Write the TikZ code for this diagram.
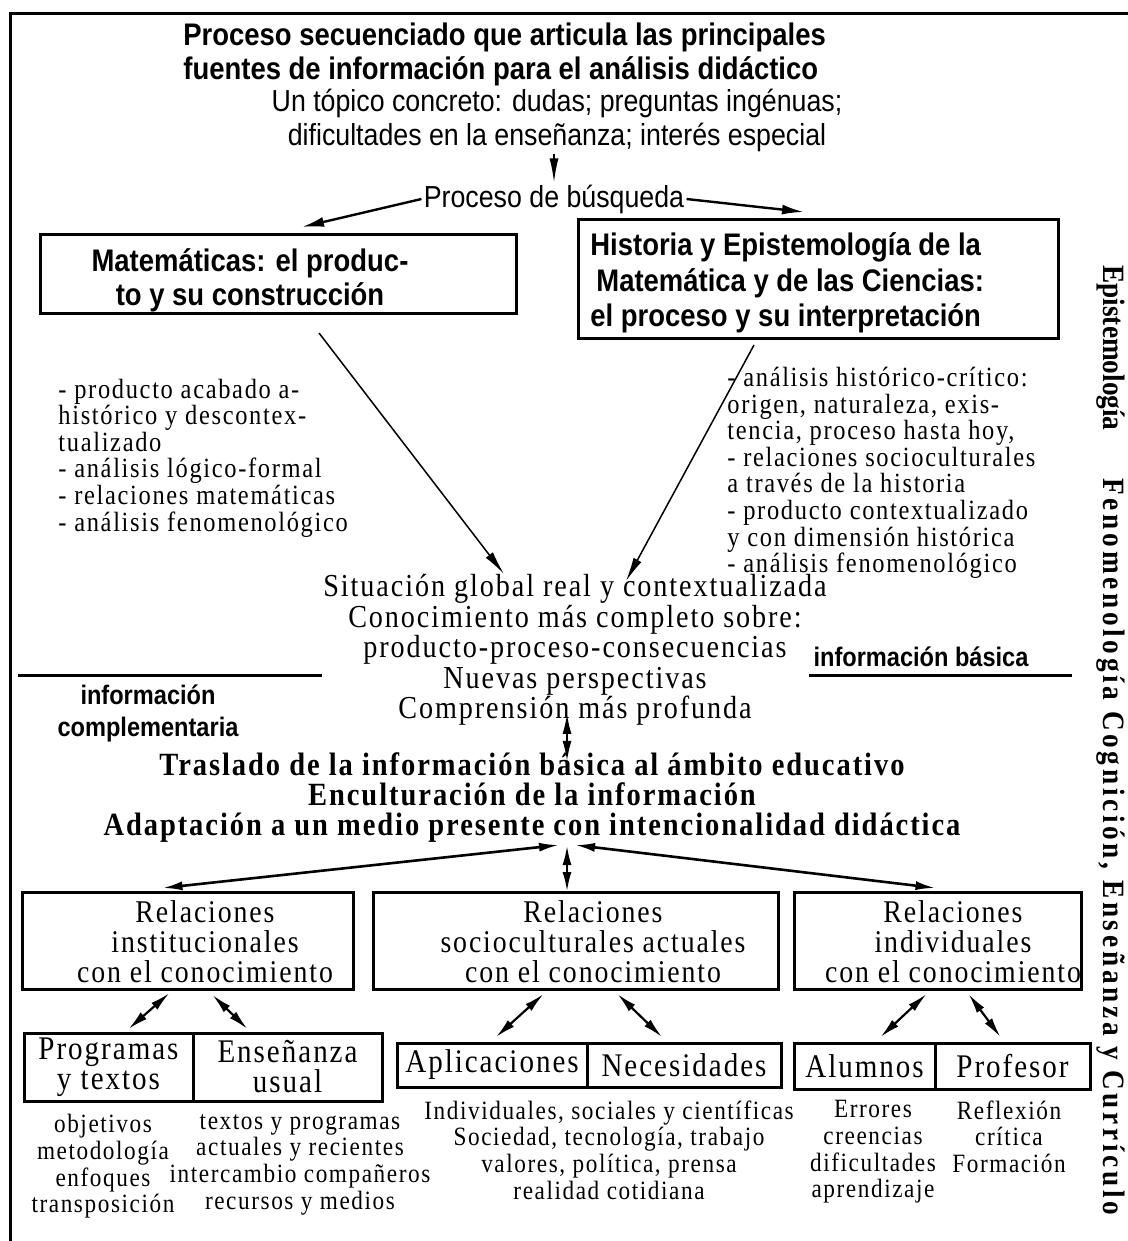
\documentclass[tikz,border=0pt]{standalone}
\usepackage{fontspec}
\setmainfont{Liberation Serif}[LetterSpace=6,FakeStretch=0.88]
\newfontfamily\hdsans{Liberation Sans}[FakeStretch=0.88]
\newfontfamily\vtplain{Liberation Serif}[FakeStretch=0.88]
\newfontfamily\vtserif{Liberation Serif}[LetterSpace=12,FakeStretch=0.88]
\usetikzlibrary{positioning,arrows.meta,calc}
\tikzset{
  caja/.style={draw,line width=1.5pt,inner sep=0pt,outer sep=0pt},
  celda/.style={caja,align=center,font=\fontsize{16.5}{15}\selectfont},
  titulo/.style={font=\hdsans\bfseries\fontsize{15.6}{17}\selectfont,inner sep=0pt},
  sans/.style={font=\hdsans\fontsize{15.2}{17}\selectfont,inner sep=1pt,align=center},
  nota/.style={font=\hdsans\bfseries\fontsize{13.4}{16}\selectfont,inner sep=0pt,align=center},
  lista/.style={font=\fontsize{13.9}{13.3}\selectfont,align=left,inner sep=0pt},
  centro/.style={font=\fontsize{16}{15.25}\selectfont,align=center,inner sep=0pt},
  negrita/.style={font=\bfseries\fontsize{16.2}{15}\selectfont,align=center,inner sep=0pt},
  rel/.style={font=\fontsize{15.8}{15}\selectfont,align=center,inner sep=0pt},
  abajo/.style={font=\fontsize{13.2}{13.35}\selectfont,align=center,inner sep=0pt,anchor=north},
  vert/.style={rotate=-90,inner sep=0pt},
  fl/.style={-{Latex[length=12pt,width=4.5pt]},line width=0.75pt},
  flg/.style={-{Latex[length=11pt,width=5pt]},line width=1.2pt},
  dfl/.style={{Latex[length=10pt,width=4.5pt]}-{Latex[length=10pt,width=4.5pt]},line width=1.1pt},
}
\begin{document}
\begin{tikzpicture}[x=0.5pt,y=-0.5pt]
\useasboundingbox (0,0) rectangle (1128,1241);
\draw[line width=1.5pt] (10,1241) -- (10,14) -- (1128,14);

% cabecera
\node[titulo,align=left,anchor=west] (tit) at (183,54) {Proceso secuenciado que articula las principales\\fuentes de información para el análisis didáctico};
\node[sans] (topico) at (557,120) {Un tópico concreto: dudas; preguntas ingénuas;\\dificultades en la enseñanza; interés especial};
\node[sans] (busq) at (554,199) {Proceso de búsqueda};
\draw[fl] (topico.south -| busq) -- (busq.north);

% las dos fuentes
\node[caja,minimum width=238pt,minimum height=39pt] (mate) at (278,274) {};
\node[titulo,align=center] (mateT) at (250,280) {Matemáticas: el produc-\\to y su construcción};
\node[caja,minimum width=240pt,minimum height=59pt] (hist) at (818,279) {};
\node[titulo,align=left,anchor=west,font=\hdsans\bfseries\fontsize{15.6}{17.7}\selectfont] (histT) at (590,283) {Historia y Epistemología de la\\\hspace*{3pt}Matemática y de las Ciencias:\\el proceso y su interpretación};
\draw[flg] (busq.west) -- ($(mate.north)+(24,-8)$);
\draw[flg] (busq.east) -- ($(hist.north)+(-14,-8)$);

\node[lista,anchor=west] (izq) at (58,458) {- producto acabado a-\\histórico y descontex-\\tualizado\\- análisis lógico-formal\\- relaciones matemáticas\\- análisis fenomenológico};
\node[lista,anchor=west] (der) at (727,473) {- análisis histórico-crítico:\\origen, naturaleza, exis-\\tencia, proceso hasta hoy,\\- relaciones socioculturales\\a través de la historia\\- producto contextualizado\\y con dimensión histórica\\- análisis fenomenológico};

% informacion basica
\node[centro] (sit) at (575,650) {Situación global real y contextualizada\\Conocimiento más completo sobre:\\producto-proceso-consecuencias\\Nuevas perspectivas\\Comprensión más profunda};
\draw[fl] ($(mate.south)+(41,20)$) -- ($(sit.north)+(-71,0)$);
\draw[fl] ($(hist.south)+(-64,7)$) -- ($(sit.north)+(51,7)$);

\node[nota] (basica) at (921,657) {información básica};
\node[nota] (compl) at (148,713) {información\\complementaria};
\draw[line width=1.5pt] (18,675) -- (322,675);
\draw[line width=1.5pt] (809,675) -- (1072,675);

\node[negrita] (tras) at (532,798) {Traslado de la información básica al ámbito educativo\\Enculturación de la información\\Adaptación a un medio presente con intencionalidad didáctica};
\coordinate (hub) at (567,845);
\draw[dfl,line width=0.75pt] ($(sit.south -| hub)+(0,-12)$) -- ($(tras.north -| hub)+(0,8)$);

% relaciones
\node[caja,minimum width=165.5pt,minimum height=48.5pt] (inst) at (187.5,940.5) {};
\node[caja,minimum width=202.5pt,minimum height=48.5pt] (socio) at (575.5,940.5) {};
\node[caja,minimum width=143.5pt,minimum height=48.5pt] (indiv) at (937.5,940.5) {};
\node[rel] (instT) at (205,942) {Relaciones\\institucionales\\con el conocimiento};
\node[rel] (socioT) at (593,942) {Relaciones\\socioculturales actuales\\con el conocimiento};
\node[rel] (indivT) at (953,942) {Relaciones\\individuales\\con el conocimiento};
\draw[dfl,line width=1.3pt] ($(hub)+(-8,0)$) -- ($(inst.north)+(-25,-4)$);
\draw[dfl,line width=1.3pt] (hub) -- (hub |- socio.north);
\draw[dfl,line width=1.3pt] ($(hub)+(8,0)$) -- ($(indiv.north)+(-2,-4)$);

\node[celda,minimum width=84.5pt,minimum height=34pt,anchor=north west] (prog) at (24,1033) {Programas\\y textos};
\node[celda,minimum width=94.5pt,minimum height=34pt,right=0pt of prog] (ens) {Enseñanza\\usual};
\node[celda,minimum width=95pt,minimum height=22pt,anchor=north west] (apl) at (397,1043) {Aplicaciones};
\node[celda,minimum width=97pt,minimum height=22pt,right=0pt of apl] (nec) {Necesidades};
\node[celda,minimum width=70.5pt,minimum height=23pt,anchor=north west] (alu) at (794,1043) {Alumnos};
\node[celda,minimum width=77.5pt,minimum height=23pt,right=0pt of alu] (prof) {Profesor};

\draw[dfl] ($(inst.south)+(-18,4)$) -- ($(prog.north)+(20,-4)$);
\draw[dfl] ($(inst.south)+(25,6)$) -- ($(ens.north)+(-40,-4)$);
\draw[dfl] ($(socio.south)+(-32,5)$) -- ($(apl.north)+(4,-6)$);
\draw[dfl] ($(socio.south)+(42,5)$) -- ($(nec.north)+(-22,-6)$);
\draw[dfl] ($(indiv.south)+(-11,5)$) -- ($(alu.north)+(16,-6)$);
\draw[dfl] ($(indiv.south)+(31,5)$) -- ($(prof.north)+(-12,-6)$);

\node[abajo] (obj) at (103,1114) {objetivos\\metodología\\enfoques\\transposición};
\node[abajo] (tex) at (300,1114) {textos y programas\\actuales y recientes\\intercambio compañeros\\recursos y medios};
\node[abajo] (ind) at (609,1100) {Individuales, sociales y científicas\\Sociedad, tecnología, trabajo\\valores, política, prensa\\realidad cotidiana};
\node[abajo] (err) at (873,1100) {Errores\\creencias\\dificultades\\aprendizaje};
\node[abajo] (ref) at (1009,1100) {Reflexión\\crítica\\Formación};

% titulo lateral
\node[vert,font=\vtplain\bfseries\fontsize{15.5}{15}\selectfont] (epis) at (1111,348) {Epistemología};
\node[vert,font=\vtserif\bfseries\fontsize{15.5}{15}\selectfont] (fenom) at (1111,847) {Fenomenología Cognición, Enseñanza y Currículo};
\end{tikzpicture}
\end{document}
